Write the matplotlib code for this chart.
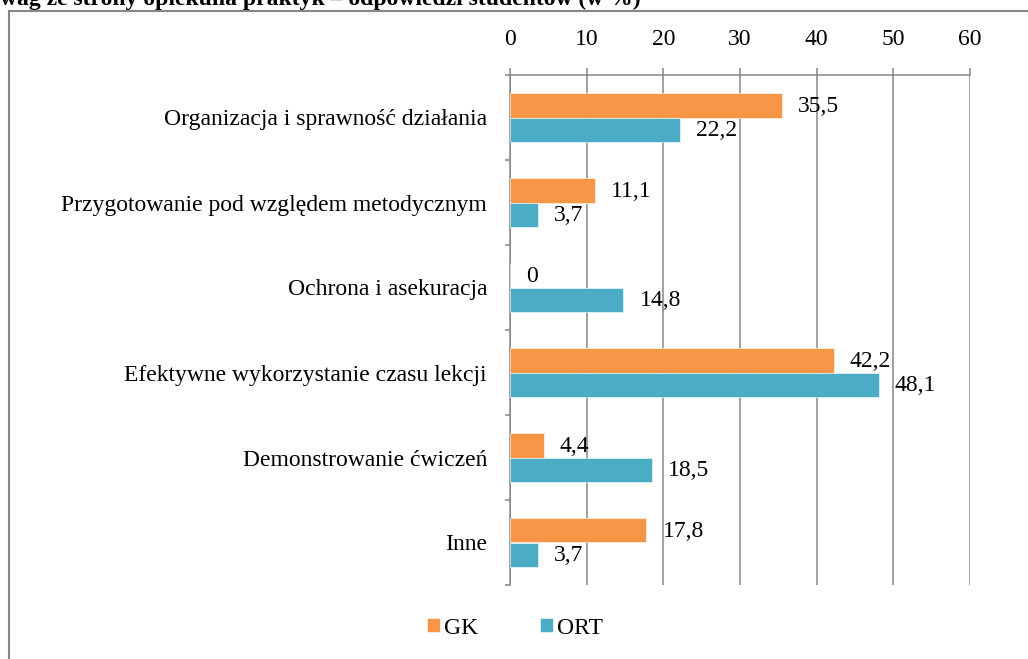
import numpy as np
import matplotlib.pyplot as plt
from matplotlib.lines import Line2D

plt.rcParams['font.family'] = ['Liberation Serif', 'DejaVu Serif']

# dane z wykresu
kategorie = ['Organizacja i sprawność działania',
             'Przygotowanie pod względem metodycznym',
             'Ochrona i asekuracja',
             'Efektywne wykorzystanie czasu lekcji',
             'Demonstrowanie ćwiczeń',
             'Inne']
gk = [35.5, 11.1, 0, 42.2, 4.4, 17.8]
ort = [22.2, 3.7, 14.8, 48.1, 18.5, 3.7]
xticks = [0, 10, 20, 30, 40, 50, 60]
tytul = 'wag ze strony opiekuna praktyk – odpowiedzi studentów (w %)'

c_gk = '#F79646'
c_ort = '#4BACC6'
szary = '#868686'
fs = 17

W, H = 1028, 659
fig = plt.figure(figsize=(W / 100, H / 100), dpi=100)
ax = fig.add_axes([510 / W, 1 - 585 / H, 460 / W, 510 / H])

y = np.arange(len(kategorie))
h = 0.284
b1 = ax.barh(y - h / 2, gk, height=h, color=c_gk, edgecolor='white', linewidth=0.4, label='GK', zorder=3)
b2 = ax.barh(y + h / 2, ort, height=h, color=c_ort, edgecolor='white', linewidth=0.4, label='ORT', zorder=3)

# etykiety wartości (przecinek dziesiętny)
for bars, vals in ((b1, gk), (b2, ort)):
    for bar, v in zip(bars, vals):
        txt = ('%g' % v).replace('.', ',')
        ax.annotate(txt, (bar.get_width(), bar.get_y() + bar.get_height() / 2),
                    xytext=(11.5, -1), textcoords='offset points',
                    ha='left', va='center', fontsize=fs, zorder=5)

ax.set_xlim(0, 60)
ax.set_ylim(len(kategorie) - 0.5, -0.5)
ax.set_xticks(xticks)
ax.set_xticklabels([str(t) for t in xticks])
ax.xaxis.tick_top()
ax.tick_params(axis='x', which='major', direction='out', length=5, width=1.1,
               color=szary, pad=13, labelsize=fs)
ax.grid(axis='x', color=szary, linewidth=1.1, zorder=0)

ax.set_yticks(y)
ax.set_yticklabels(kategorie)
ax.set_yticks(np.arange(len(kategorie) + 1) - 0.5, minor=True)
ax.tick_params(axis='y', which='major', length=0, pad=16.5, labelsize=fs)
ax.tick_params(axis='y', which='minor', direction='out', length=3.6, width=1.1, color=szary)

for s in ('right', 'bottom'):
    ax.spines[s].set_visible(False)
for s in ('left', 'top'):
    ax.spines[s].set_color(szary)
    ax.spines[s].set_linewidth(1.1)
ax.set_axisbelow(True)

fig.legend(handles=[b1, b2], labels=['GK', 'ORT'], loc='center',
           bbox_to_anchor=(515 / W, 1 - 628 / H), ncol=2, frameon=False,
           fontsize=fs, handlelength=0.55, handleheight=0.55,
           handletextpad=0.2, columnspacing=2.6)

# ramka zewnętrzna
fig.add_artist(Line2D([8.5 / W, 8.5 / W], [1 - 10.5 / H, 0], transform=fig.transFigure,
                      color=szary, linewidth=1.5))
fig.add_artist(Line2D([8.5 / W, 1], [1 - 10.5 / H, 1 - 10.5 / H], transform=fig.transFigure,
                      color=szary, linewidth=1.5))

# obcięty tytuł u góry
fig.text(0, 1 - 5 / H, tytul, ha='left', va='baseline', fontsize=fs, fontweight='bold')

fig.savefig('out.png', dpi=100)
